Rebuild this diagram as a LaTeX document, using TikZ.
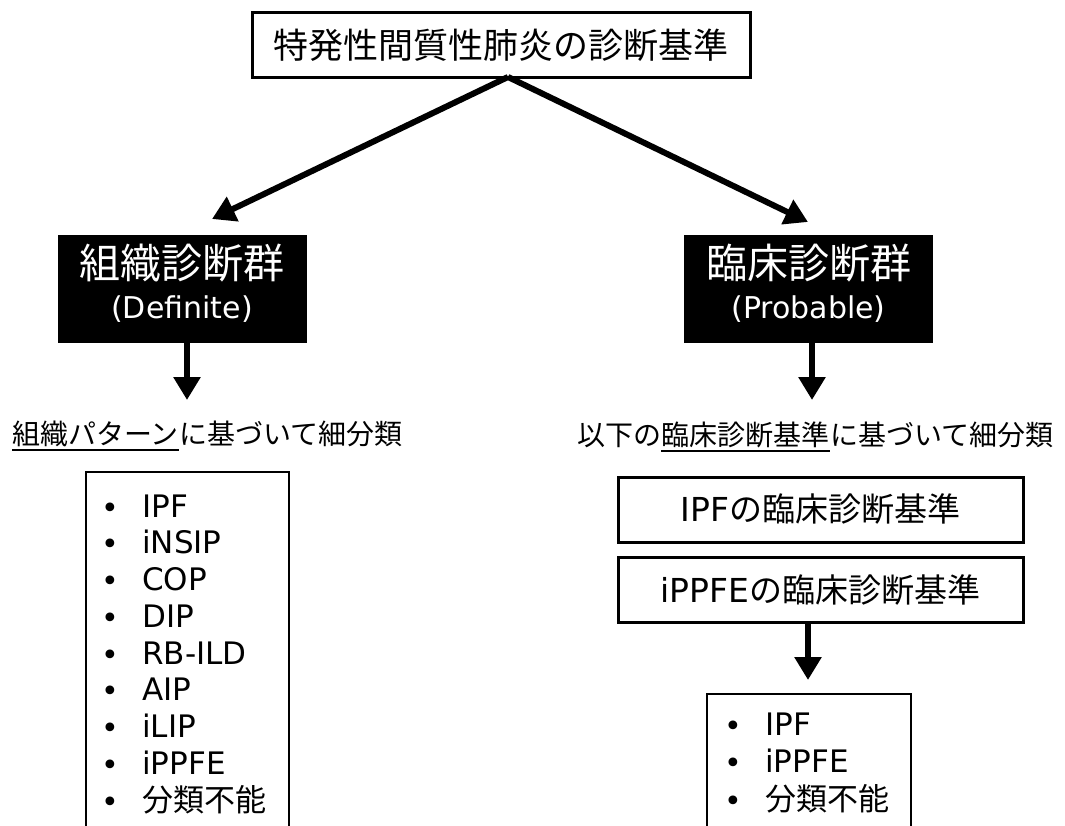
\documentclass[tikz,border=0pt]{standalone}
\usepackage{fontspec}
\setmainfont{DejaVu Sans}
\newfontfamily\jp{Noto Sans CJK JP}
\usetikzlibrary{arrows.meta}
\tikzset{
  frame/.style={draw=black, line width=3pt, inner sep=0pt, fill=white},
  blackbox/.style={fill=black, draw=black, inner sep=0pt, minimum width=248pt, minimum height=107pt},
  wbig/.style={text=white, inner sep=0pt, anchor=base, font=\fontsize{41}{46}\selectfont\jp},
  wsmall/.style={text=white, inner sep=0pt, anchor=base, font=\fontsize{30}{36}\selectfont},
  arr/.style={line width=6pt, -{Triangle[length=23pt,width=26pt]}},
  sub/.style={inner sep=0pt, anchor=base west, font=\fontsize{28}{32}\selectfont\jp},
  ul/.style={line width=2pt},
  item/.style={inner sep=0pt, anchor=base west, font=\fontsize{31}{36}\selectfont},
  bul/.style={inner sep=0pt, anchor=base, font=\fontsize{30}{34}\selectfont},
  listframe/.style={draw=black, line width=2.5pt},
  crit/.style={frame, minimum width=405pt, minimum height=65pt, font=\fontsize{33}{38}\selectfont}
}
\begin{document}
\begin{tikzpicture}[x=1pt, y=-1pt]
\useasboundingbox (0,0) rectangle (1065,826);
\fill[white] (0,0) rectangle (1065,826);

% top box
\node[frame, minimum width=498pt, minimum height=65pt, font=\fontsize{35}{40}\selectfont\jp] (top) at (501,45.5) {特発性間質性肺炎の診断基準};

% black boxes
\node[blackbox] (def) at (182,288.5) {};
\node[wbig] (defa) at (182,279) {組織診断群};
\node[wsmall] (defb) at (182,318) {(Definite)};
\node[blackbox] (prob) at (808.5,288.5) {};
\node[wbig] (proba) at (808.5,279) {臨床診断群};
\node[wsmall] (probb) at (808.5,318) {(Probable)};

% diagonal arrows
\coordinate (apex) at (508,77);
\coordinate (ltip) at (212,219);
\coordinate (rtip) at (808,222);
\draw[arr] (apex) -- (ltip);
\draw[arr] (apex) -- (rtip);

% down arrows
\coordinate (ld0) at (187,342);
\coordinate (ld1) at (187,400);
\coordinate (rd0) at (812,342);
\coordinate (rd1) at (812,400);
\draw[arr] (ld0) -- (ld1);
\draw[arr] (rd0) -- (rd1);

% left subtitle
\node[sub] (s1a) at (12,444) {組織パターン};
\node[sub] (s1b) at (s1a.base east) {に基づいて細分類};
\draw[ul] ([yshift=-6pt]s1a.base west) -- ([yshift=-6pt]s1a.base east);

% right subtitle
\node[sub] (s2a) at (577,445) {以下の};
\node[sub] (s2b) at (s2a.base east) {臨床診断基準};
\node[sub] (s2c) at (s2b.base east) {に基づいて細分類};
\draw[ul] ([yshift=-6pt]s2b.base west) -- ([yshift=-6pt]s2b.base east);

% left list frame (open at bottom)
\coordinate (lf1) at (86,840);
\coordinate (lf2) at (289,472);
\coordinate (lf3) at (289,840);
\draw[listframe] (lf1) |- (lf2) -- (lf3);
\foreach \t [count=\i] in {IPF,iNSIP,COP,DIP,RB-ILD,AIP,iLIP,iPPFE,{\jp 分類不能}} {
  \node[item] (L\i) at (142,{517+36.75*(\i-1)}) {\t};
  \node[bul] (LB\i) at (110,{518+36.75*(\i-1)}) {•};
}

% criteria boxes
\node[crit] (c1) at (820.5,509.5) {IPF{\jp の臨床診断基準}};
\node[crit] (c2) at (820.5,590) {iPPFE{\jp の臨床診断基準}};
\coordinate (cd1) at (808,680);
\draw[arr] (c2.south -| cd1) -- (cd1);

% right list frame
\coordinate (rf1) at (707,840);
\coordinate (rf2) at (911,694);
\coordinate (rf3) at (911,840);
\draw[listframe] (rf1) |- (rf2) -- (rf3);
\foreach \t [count=\i] in {IPF,iPPFE,{\jp 分類不能}} {
  \node[item] (R\i) at (765,{735+37.5*(\i-1)}) {\t};
  \node[bul] (RB\i) at (733,{736+37.5*(\i-1)}) {•};
}
\end{tikzpicture}
\end{document}
